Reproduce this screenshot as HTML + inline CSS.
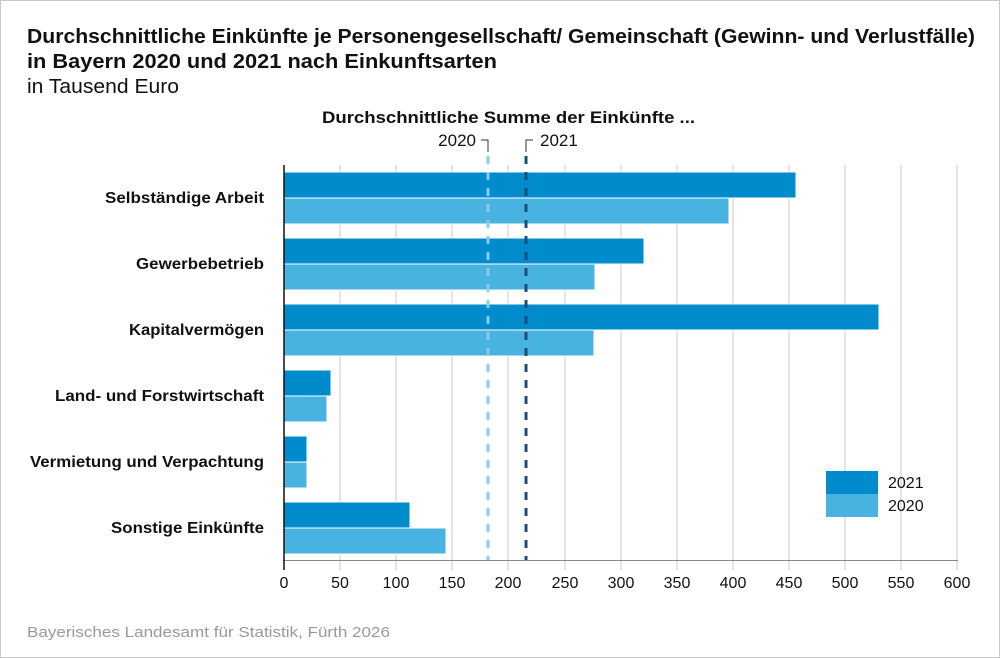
<!DOCTYPE html>
<html><head><meta charset="utf-8"><style>
body{margin:0;background:#fff}
svg{display:block;font-family:"Liberation Sans",Arial,sans-serif}
</style></head><body>
<svg width="1000" height="658" viewBox="0 0 1000 658" xmlns="http://www.w3.org/2000/svg">
<rect x="0.5" y="0.5" width="999" height="657" fill="#fff" stroke="#c8c8c8"/>
<text x="27" y="43" font-size="20" font-weight="bold" fill="#111" textLength="948" lengthAdjust="spacingAndGlyphs">Durchschnittliche Einkünfte je Personengesellschaft/ Gemeinschaft (Gewinn- und Verlustfälle)</text>
<text x="27" y="68" font-size="20" font-weight="bold" fill="#111" textLength="470" lengthAdjust="spacingAndGlyphs">in Bayern 2020 und 2021 nach Einkunftsarten</text>
<text x="27" y="93" font-size="20" fill="#111" textLength="152" lengthAdjust="spacingAndGlyphs">in Tausend Euro</text>
<text x="322" y="123" font-size="17" font-weight="bold" fill="#111" textLength="373" lengthAdjust="spacingAndGlyphs">Durchschnittliche Summe der Einkünfte ...</text>
<text x="476" y="146" font-size="17" text-anchor="end" fill="#111">2020</text>
<path d="M481 140 H488 V152" stroke="#333" fill="none"/>
<text x="540" y="146" font-size="17" fill="#111">2021</text>
<path d="M533 140 H526 V152" stroke="#333" fill="none"/>
<g stroke="#c8c8c8" stroke-width="1">
<line x1="340" y1="165" x2="340" y2="570"/><line x1="396" y1="165" x2="396" y2="570"/>
<line x1="452" y1="165" x2="452" y2="570"/><line x1="508" y1="165" x2="508" y2="570"/>
<line x1="565" y1="165" x2="565" y2="570"/><line x1="621" y1="165" x2="621" y2="570"/>
<line x1="677" y1="165" x2="677" y2="570"/><line x1="733" y1="165" x2="733" y2="570"/>
<line x1="789" y1="165" x2="789" y2="570"/><line x1="845" y1="165" x2="845" y2="570"/>
<line x1="901" y1="165" x2="901" y2="570"/><line x1="957" y1="165" x2="957" y2="570"/>
</g>
<g stroke="#fff" stroke-width="1">
<rect x="284" y="172" width="512" height="26" fill="#008ccc"/>
<rect x="284" y="198" width="445" height="26" fill="#48b3e0"/>
<rect x="284" y="238" width="360" height="26" fill="#008ccc"/>
<rect x="284" y="264" width="311" height="26" fill="#48b3e0"/>
<rect x="284" y="304" width="595" height="26" fill="#008ccc"/>
<rect x="284" y="330" width="310" height="26" fill="#48b3e0"/>
<rect x="284" y="370" width="47" height="26" fill="#008ccc"/>
<rect x="284" y="396" width="43" height="26" fill="#48b3e0"/>
<rect x="284" y="436" width="23" height="26" fill="#008ccc"/>
<rect x="284" y="462" width="23" height="26" fill="#48b3e0"/>
<rect x="284" y="502" width="126" height="26" fill="#008ccc"/>
<rect x="284" y="528" width="162" height="26" fill="#48b3e0"/>
</g>
<line x1="488" y1="156" x2="488" y2="560" stroke="#8ecae6" stroke-width="3" stroke-dasharray="8 8"/>
<line x1="526" y1="156" x2="526" y2="560" stroke="#1b4e78" stroke-width="3" stroke-dasharray="8 8"/>
<line x1="283" y1="560.5" x2="958" y2="560.5" stroke="#888"/>
<line x1="284" y1="165" x2="284" y2="570" stroke="#111" stroke-width="1.5"/>
<g font-size="16" font-weight="bold" text-anchor="end" fill="#111" lengthAdjust="spacingAndGlyphs">
<text x="264" y="203" textLength="159" lengthAdjust="spacingAndGlyphs">Selbständige Arbeit</text>
<text x="264" y="269" textLength="128" lengthAdjust="spacingAndGlyphs">Gewerbebetrieb</text>
<text x="264" y="335" textLength="135" lengthAdjust="spacingAndGlyphs">Kapitalvermögen</text>
<text x="264" y="401" textLength="209" lengthAdjust="spacingAndGlyphs">Land- und Forstwirtschaft</text>
<text x="264" y="467" textLength="234" lengthAdjust="spacingAndGlyphs">Vermietung und Verpachtung</text>
<text x="264" y="533" textLength="153" lengthAdjust="spacingAndGlyphs">Sonstige Einkünfte</text>
</g>
<g font-size="16" text-anchor="middle" fill="#111">
<text x="284" y="588">0</text><text x="340" y="588">50</text><text x="396" y="588">100</text>
<text x="452" y="588">150</text><text x="508" y="588">200</text><text x="565" y="588">250</text>
<text x="621" y="588">300</text><text x="677" y="588">350</text><text x="733" y="588">400</text>
<text x="789" y="588">450</text><text x="845" y="588">500</text><text x="901" y="588">550</text>
<text x="957" y="588">600</text>
</g>
<rect x="826" y="471" width="52" height="23" fill="#008ccc"/>
<rect x="826" y="494" width="52" height="23" fill="#48b3e0"/>
<text x="888" y="488" font-size="16" fill="#111">2021</text>
<text x="888" y="511" font-size="16" fill="#111">2020</text>
<text x="27" y="637" font-size="15" fill="#999" textLength="363" lengthAdjust="spacingAndGlyphs">Bayerisches Landesamt für Statistik, Fürth 2026</text>
</svg>
</body></html>
